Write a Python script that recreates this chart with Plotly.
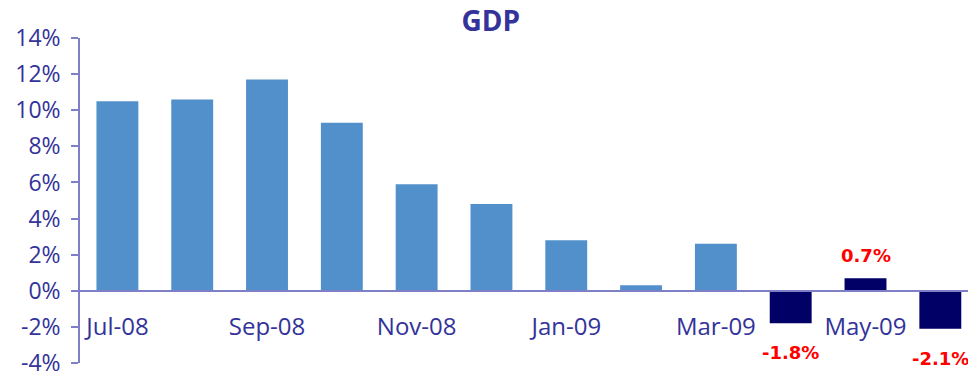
import plotly.graph_objects as go

# Monthly GDP growth, year on year (%)
months = ["Jul-08", "Aug-08", "Sep-08", "Oct-08", "Nov-08", "Dec-08",
          "Jan-09", "Feb-09", "Mar-09", "Apr-09", "May-09", "Jun-09"]
gdp_growth = [10.5, 10.6, 11.7, 9.3, 5.9, 4.8, 2.8, 0.3, 2.6, -1.8, 0.7, -2.1]
highlighted = [False] * 9 + [True] * 3

y_ticks = [-4, -2, 0, 2, 4, 6, 8, 10, 12, 14]
y_tick_labels = ["-4%", "-2%", "0%", "2%", "4%", "6%", "8%", "10%", "12%", "14%"]
x_tick_labels = months[::2]

LIGHT_BAR = "#5290cc"
DARK_BAR = "#000066"
TEXT_BLUE = "#333399"
AXIS_LINE = "#7f7fc8"
LABEL_RED = "#ff0000"

y_min, y_max = -4, 14

fig = go.Figure()
fig.add_trace(go.Bar(
    x=months,
    y=gdp_growth,
    marker=dict(color=[DARK_BAR if h else LIGHT_BAR for h in highlighted],
                line=dict(width=0)),
    hoverinfo="x+y",
))

# Value labels for the most recent months
for m, v, h in zip(months, gdp_growth, highlighted):
    if not h:
        continue
    fig.add_annotation(
        x=m, y=v, text=f"{v:.1f}%", showarrow=False,
        yanchor="bottom" if v >= 0 else "top",
        yshift=10 if v >= 0 else -17,
        font=dict(family="DejaVu Sans", size=18, color=LABEL_RED, weight="bold"),
    )

fig.update_layout(
    width=968, height=378,
    margin=dict(l=80, r=0, t=38, b=15, autoexpand=False),
    paper_bgcolor="white", plot_bgcolor="white",
    bargap=0.44,
    showlegend=False,
    title=dict(text="<b>GDP</b>", x=0.507, xanchor="center", y=0.945, yanchor="middle",
               font=dict(family="Open Sans", size=28, color=TEXT_BLUE)),
    font=dict(family="Open Sans", color=TEXT_BLUE),
)

fig.update_xaxes(
    type="category",
    categoryorder="array", categoryarray=months,
    range=[-0.5, 11.37],
    anchor="free",
    position=(0 - y_min) / (y_max - y_min),
    showline=True, linecolor=AXIS_LINE, linewidth=2,
    tickmode="array", tickvals=x_tick_labels, ticktext=x_tick_labels,
    ticks="", ticklabelstandoff=14,
    tickfont=dict(family="Open Sans", size=24, color=TEXT_BLUE),
    showgrid=False, zeroline=False, automargin=False,
)

fig.update_yaxes(
    range=[y_min, y_max],
    tickmode="array", tickvals=y_ticks, ticktext=y_tick_labels,
    ticks="outside", ticklen=7, tickwidth=1.5, tickcolor=AXIS_LINE,
    showline=True, linecolor=AXIS_LINE, linewidth=1.5,
    ticklabelstandoff=6, ticklabeloverflow="allow",
    tickfont=dict(family="Open Sans", size=23, color=TEXT_BLUE),
    showgrid=False, zeroline=False, automargin=False,
)

fig.write_html("out.html")
